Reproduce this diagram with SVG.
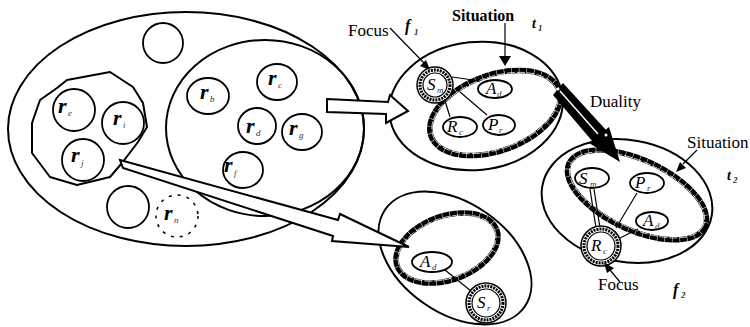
<svg xmlns="http://www.w3.org/2000/svg" width="750" height="327" viewBox="0 0 750 327" font-family="'Liberation Serif', 'Times New Roman', serif">
<style>
.o{fill:none;stroke:#000;stroke-width:2;stroke-linejoin:round}
.c{fill:#fff;stroke:#000;stroke-width:1.8}
.ov{fill:#fff;stroke:#000;stroke-width:1.8}
.band{fill:none;stroke:#000;stroke-width:5.5;stroke-dasharray:7 0.5}
.bandw{fill:none;stroke:#fff;stroke-width:0.7;stroke-dasharray:8 2}
.ln{stroke:#000;stroke-width:1.2;fill:none}
.r{font-weight:bold;font-style:italic;font-size:22px}
.s{font-style:italic;font-size:9px;fill:#333}
.L{font-style:italic;font-size:17px}
.lab{font-size:17px}
.bi{font-weight:bold;font-style:italic;font-size:16px}
.arr{fill:#fff;stroke:#000;stroke-width:2;stroke-linejoin:miter}
</style>

<g id="universe">
<ellipse class="o" cx="186" cy="129" rx="178" ry="117"/>
<path id="groupA" class="o" d="M57,88 L67,80 L110,72 L133,87 L143,103 L147,127 L138,142 L122,163 L110,177 L77,185 L50,177 L32,153 L32,123 L40,100 Z"/>
<ellipse id="groupB" class="o" cx="265" cy="128" rx="99" ry="88"/>
</g>

<g id="r-empty1"><circle class="c" cx="163" cy="43" r="20"/></g>
<g id="r-e"><circle class="c" cx="74" cy="110" r="21"/><text class="r" x="58" y="113">r</text><text class="s" x="68" y="116">e</text></g>
<g id="r-i"><circle class="c" cx="123" cy="123" r="21"/><text class="r" x="113" y="125">r</text><text class="s" x="123" y="128">i</text></g>
<g id="r-j"><circle class="c" cx="83" cy="160" r="21"/><text class="r" x="71" y="162">r</text><text class="s" x="81" y="166">j</text></g>
<g id="r-b"><ellipse class="c" cx="208" cy="96" rx="21" ry="18"/><text class="r" x="200" y="99">r</text><text class="s" x="210" y="102">b</text></g>
<g id="r-c"><ellipse class="c" cx="277" cy="82" rx="20" ry="18"/><text class="r" x="268" y="85">r</text><text class="s" x="278" y="88">c</text></g>
<g id="r-d"><ellipse class="c" cx="257" cy="126" rx="19" ry="18"/><text class="r" x="246" y="133">r</text><text class="s" x="256" y="136">d</text></g>
<g id="r-g"><ellipse class="c" cx="302" cy="132" rx="20" ry="18"/><text class="r" x="289" y="135">r</text><text class="s" x="299" y="138">g</text></g>
<g id="r-f"><ellipse class="c" cx="243" cy="170" rx="20" ry="18"/><text class="r" x="224" y="172">r</text><text class="s" x="234" y="176">f</text></g>
<g id="r-empty2"><circle class="c" cx="128" cy="207" r="21"/></g>
<g id="r-n"><circle cx="177" cy="216" r="21" fill="none" stroke="#000" stroke-width="1.5" stroke-dasharray="3 6"/><text class="r" x="164" y="220">r</text><text class="s" x="174" y="223">n</text></g>

<g id="t1">
<ellipse class="o" cx="476" cy="106" rx="87" ry="64" transform="rotate(-6 476 106)"/>
<ellipse class="band" cx="495" cy="113" rx="68" ry="38" transform="rotate(-20 495 113)"/>
<ellipse class="bandw" cx="495" cy="113" rx="66" ry="36" transform="rotate(-20 495 113)"/>
</g>
<g id="t1-lines">
<line class="ln" x1="452" y1="77" x2="480" y2="81"/>
<line class="ln" x1="460" y1="92" x2="487" y2="115"/>
<line class="ln" x1="442" y1="91" x2="450" y2="117"/>
</g>
<g id="t1-Sm">
<circle cx="435" cy="85" r="18" fill="#fff" stroke="#000" stroke-width="1.5"/>
<circle cx="435" cy="85" r="15" fill="none" stroke="#000" stroke-width="3" stroke-dasharray="2 1"/>
<circle cx="435" cy="85" r="12" fill="#fff" stroke="#000" stroke-width="1.2"/>
<text class="L" x="427" y="90">S</text><text class="s" x="437" y="93">m</text>
</g>
<g id="t1-Ad"><ellipse class="ov" cx="495" cy="89" rx="17" ry="9"/><text class="L" x="486" y="94">A</text><text class="s" x="497" y="97">d</text></g>
<g id="t1-Rc"><ellipse class="ov" cx="460" cy="127" rx="17" ry="10"/><text class="L" x="447" y="132">R</text><text class="s" x="459" y="135">c</text></g>
<g id="t1-Pr"><ellipse class="ov" cx="499" cy="125" rx="16" ry="10"/><text class="L" x="488" y="130">P</text><text class="s" x="499" y="133">r</text></g>

<g id="t2">
<ellipse class="o" cx="627" cy="201" rx="86" ry="61" transform="rotate(10 627 201)"/>
<ellipse class="band" cx="637" cy="195" rx="75" ry="35" transform="rotate(25 637 195)"/>
<ellipse class="bandw" cx="637" cy="195" rx="73" ry="33" transform="rotate(25 637 195)"/>
</g>
<g id="t2-lines">
<line class="ln" x1="590" y1="189" x2="596" y2="228"/>
<line class="ln" x1="594" y1="189" x2="600" y2="228"/>
<line class="ln" x1="637" y1="193" x2="616" y2="228"/>
<line class="ln" x1="620" y1="238" x2="638" y2="229"/>
</g>
<g id="t2-Sm"><ellipse class="ov" cx="592" cy="178" rx="17" ry="10"/><text class="L" x="579" y="184">S</text><text class="s" x="590" y="187">m</text></g>
<g id="t2-Pr"><ellipse class="ov" cx="647" cy="183" rx="17" ry="10"/><text class="L" x="635" y="188">P</text><text class="s" x="647" y="191">r</text></g>
<g id="t2-Ad"><ellipse class="ov" cx="652" cy="221" rx="16" ry="9"/><text class="L" x="643" y="226">A</text><text class="s" x="655" y="229">d</text></g>
<g id="t2-Rc">
<circle cx="601" cy="246" r="20" fill="#fff" stroke="#000" stroke-width="1.5"/>
<circle cx="601" cy="246" r="17" fill="none" stroke="#000" stroke-width="3" stroke-dasharray="2 1"/>
<circle cx="601" cy="246" r="14" fill="#fff" stroke="#000" stroke-width="1.2"/>
<text class="L" x="591" y="251">R</text><text class="s" x="603" y="254">c</text>
</g>

<g id="t3">
<ellipse class="o" cx="455" cy="258" rx="85" ry="55" transform="rotate(35 455 258)"/>
<ellipse class="band" cx="447" cy="248" rx="53" ry="32" transform="rotate(-20 447 248)"/>
<ellipse class="bandw" cx="447" cy="248" rx="51" ry="30" transform="rotate(-20 447 248)"/>
<line class="ln" x1="445" y1="270" x2="471" y2="291"/>
</g>
<g id="t3-Ad"><ellipse class="ov" cx="432" cy="262" rx="20" ry="10"/><text class="L" x="420" y="267">A</text><text class="s" x="432" y="270">d</text></g>
<g id="t3-Sr">
<circle cx="486" cy="303" r="20" fill="#fff" stroke="#000" stroke-width="1.5"/>
<circle cx="486" cy="303" r="17" fill="none" stroke="#000" stroke-width="3" stroke-dasharray="2 1"/>
<circle cx="486" cy="303" r="14" fill="#fff" stroke="#000" stroke-width="1.2"/>
<text class="L" x="477" y="308">S</text><text class="s" x="487" y="311">r</text>
</g>

<g id="connectors">
<polygon class="arr" points="327,99 388,102 390,95 408,111 386,123 386,114 327,112"/>
<polygon class="arr" points="120,160 338,220 340,214 409,247 332,241 333,236 123,168"/>
<polygon points="563,83 606,130 593,142 553,95" fill="#000"/>
<line x1="560" y1="91" x2="598" y2="134" stroke="#fff" stroke-width="1.5"/>
<polygon points="609,127 620,162 589,143" fill="#000"/>
<circle cx="558" cy="89" r="1.5" fill="#fff"/>
<circle cx="606" cy="135" r="1.5" fill="#fff"/>
<line class="ln" x1="390" y1="28" x2="424" y2="63"/>
<polygon points="430,70 420,66 426,60"/>
<line class="ln" x1="505" y1="23" x2="505" y2="56"/>
<polygon points="499,56 511,56 505,66"/>
<line class="ln" x1="697" y1="150" x2="683" y2="164"/>
<polygon points="676,172 686,168 680,162"/>
<line class="ln" x1="620" y1="282" x2="610" y2="270"/>
<polygon points="604,263 614,268 607,273"/>
</g>

<g id="labels">
<text class="lab" x="348" y="36">Focus</text>
<text class="bi" x="405" y="31">f</text><text class="s" x="414" y="35" style="font-weight:bold">1</text>
<text x="452" y="21" font-weight="bold" font-size="16">Situation</text>
<text class="bi" x="532" y="28" style="font-size:14px">t</text><text class="s" x="538" y="31" style="font-weight:bold">1</text>
<text class="lab" x="590" y="107">Duality</text>
<text class="lab" x="687" y="148">Situation</text>
<text class="bi" x="727" y="180" style="font-size:14px">t</text><text class="s" x="733" y="183" style="font-weight:bold">2</text>
<text class="lab" x="598" y="290">Focus</text>
<text class="bi" x="673" y="295">f</text><text class="s" x="681" y="298" style="font-weight:bold">2</text>
</g>
</svg>
